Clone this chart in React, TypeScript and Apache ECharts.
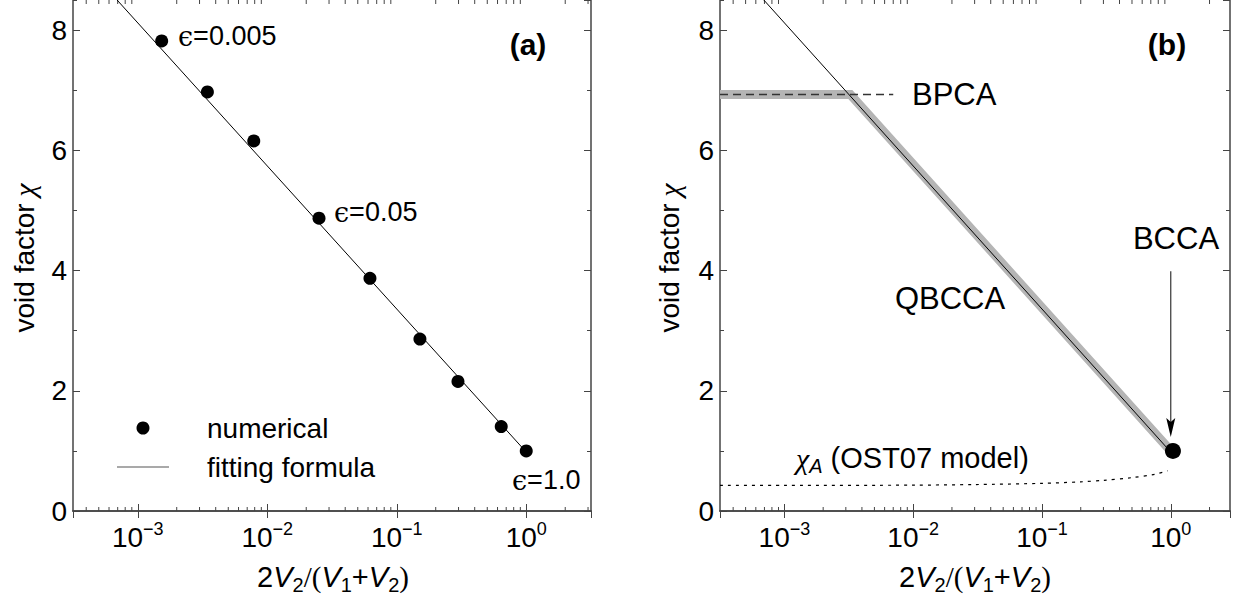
import React, { useEffect, useRef } from "react";
import * as echarts from "echarts";

// ---------- data ----------
const X_MIN = Math.pow(10, -3.5);
const X_MAX_A = Math.pow(10, 0.5);
const X_MAX_B = Math.pow(10, 0.46);
const Y_MIN = 0;
const Y_MAX = 8.5;

// panel (a): numerical results
const numericalX = [1.53e-3, 3.45e-3, 7.87e-3, 0.0251, 0.0621, 0.151, 0.297, 0.641, 1.0];
const numericalY = [7.82, 6.97, 6.155, 4.87, 3.87, 2.86, 2.155, 1.405, 1.0];

// fitting formula (straight line in log-x)
const fitX = [X_MIN, 1.0];
const fitY = [9.31, 0.98];

// panel (b): grey band (BPCA plateau then QBCCA slope)
const bandX = [X_MIN, 3.25e-3, 1.0];
const bandY = [6.93, 6.93, 1.0];

// BPCA dashed level
const bpcaX = [X_MIN, 7.0e-3];
const bpcaY = [6.93, 6.93];

// chi_A (OST07 model), dotted
const chiAX = [X_MIN, 1e-3, 1e-2, 0.03, 0.1, 0.2, 0.3, 0.5, 0.75, 0.95];
const chiAY = [0.425, 0.425, 0.43, 0.44, 0.46, 0.485, 0.51, 0.555, 0.61, 0.67];

// BCCA point and arrow
const bccaX = [1.04];
const bccaY = [1.0];
const arrowX = [1.0];
const arrowFromY = [3.99];
const arrowToY = [1.23];

const yMajorTicks = [0, 2, 4, 6, 8];

// ---------- style ----------
const SANS = "'Liberation Sans', Arial, Helvetica, sans-serif";
const SERIF = "'Liberation Serif', 'DejaVu Serif', serif";
const AXIS_COLOR = "#444";

const zip = (xs: number[], ys: number[]) => xs.map((x, i) => [x, ys[i]]);

function minorXTicks(min: number, max: number) {
  const out: number[][] = [];
  for (let e = -5; e <= 1; e++) {
    for (let k = 2; k <= 9; k++) {
      const v = k * Math.pow(10, e);
      if (v > min && v < max) out.push([v, 0]);
    }
  }
  return out;
}

const xLabel = {
  show: true,
  margin: 9,
  showMinLabel: false,
  showMaxLabel: false,
  formatter: (v: number) => {
    const e = Math.log10(v);
    if (Math.abs(e - Math.round(e)) > 1e-6) return "";
    const r = Math.round(e);
    return "{b|10}{s|" + (r < 0 ? "\u2212" + -r : String(r)) + "}";
  },
  rich: {
    b: { fontSize: 28, fontFamily: SANS, color: "#000", lineHeight: 34 },
    s: { fontSize: 18, fontFamily: SANS, color: "#000", lineHeight: 18, verticalAlign: "top" },
  },
};

function xAxis(gridIndex: number, max: number, position: string, labels: boolean) {
  return {
    type: "log",
    logBase: 10,
    gridIndex,
    min: X_MIN,
    max,
    position,
    axisLine: { show: true, lineStyle: { color: AXIS_COLOR, width: 1.5 } },
    axisTick: { show: true, inside: true, length: 7, lineStyle: { color: AXIS_COLOR, width: 1 } },
    axisLabel: labels ? xLabel : { show: false },
    splitLine: { show: false },
    minorTick: { show: false },
  };
}

function yAxis(gridIndex: number, position: string, major: boolean, labels: boolean) {
  return {
    type: "value",
    gridIndex,
    min: Y_MIN,
    max: Y_MAX,
    interval: major ? 2 : 1,
    position,
    axisLine: { show: major, lineStyle: { color: AXIS_COLOR, width: 1.5 } },
    axisTick: { show: true, inside: true, length: major ? 7 : 4, lineStyle: { color: AXIS_COLOR, width: 1 } },
    axisLabel: labels
      ? {
          show: true,
          margin: 6,
          fontSize: 28,
          fontFamily: SANS,
          color: "#000",
          showMaxLabel: false,
          formatter: (v: number) => (yMajorTicks.indexOf(v) >= 0 ? String(v) : ""),
        }
      : { show: false },
    splitLine: { show: false },
  };
}

function minorTickSeries(xAxisIndex: number, yAxisIndex: number, max: number) {
  return {
    type: "custom",
    xAxisIndex,
    yAxisIndex,
    silent: true,
    clip: false,
    encode: { x: 0, y: 1 },
    data: minorXTicks(X_MIN, max),
    renderItem: (params: any, api: any) => {
      const x = api.value(0);
      const b = api.coord([x, Y_MIN]);
      const t = api.coord([x, Y_MAX]);
      const st = { stroke: AXIS_COLOR, lineWidth: 1 };
      return {
        type: "group",
        children: [
          { type: "line", shape: { x1: b[0], y1: b[1], x2: b[0], y2: b[1] - 4 }, style: st },
          { type: "line", shape: { x1: t[0], y1: t[1], x2: t[0], y2: t[1] + 4 }, style: st },
        ],
      };
    },
  };
}

function txt(x: number, y: number, text: string, rich: any, align = "left", extra: any = {}) {
  return {
    type: "text",
    x,
    y,
    silent: true,
    ...extra,
    style: {
      text,
      rich,
      align,
      textAlign: align,
      verticalAlign: "middle",
      textVerticalAlign: "middle",
      fill: "#000",
    },
  };
}

const xTitleText = "{n|2}{i|V}{sub|2}{s|/(}{i|V}{sub|1}{n|+}{i|V}{sub|2}{s|)}";
const xTitleRich = {
  n: { fontSize: 29, fontFamily: SANS, fill: "#000", lineHeight: 36 },
  i: { fontSize: 29, fontFamily: SANS, fontStyle: "italic", fill: "#000", lineHeight: 36 },
  sub: { fontSize: 20, fontFamily: SANS, fill: "#000", lineHeight: 19, verticalAlign: "bottom" },
  s: { fontSize: 29, fontFamily: SERIF, fill: "#000", lineHeight: 36 },
};
const yTitleRich = {
  t: { fontSize: 28, fontFamily: SANS, fill: "#000" },
  c: { fontSize: 30, fontFamily: SERIF, fontStyle: "italic", fill: "#000" },
};
const epsRich = {
  e: { fontSize: 27, fontFamily: "'DejaVu Serif', serif", fill: "#000" },
  n: { fontSize: 27, fontFamily: SANS, fill: "#000" },
};
const labelRich = { l: { fontSize: 31, fontFamily: SANS, fill: "#000" } };
const panelRich = { p: { fontSize: 30, fontFamily: SANS, fontWeight: "bold", fill: "#000" } };
const chiARich = {
  c: { fontSize: 30, fontFamily: SERIF, fontStyle: "italic", fill: "#000", lineHeight: 36 },
  sub: { fontSize: 20, fontFamily: SANS, fontStyle: "italic", fill: "#000", lineHeight: 19, verticalAlign: "bottom" },
  n: { fontSize: 29, fontFamily: SANS, fill: "#000", lineHeight: 36 },
};

export default function App() {
  const ref = useRef<HTMLDivElement>(null);
  useEffect(() => {
    if (!ref.current) return;
    const chart = echarts.init(ref.current, undefined, { renderer: "svg" });
    const option: any = {
      animation: false,
      backgroundColor: "#fff",
      grid: [
        { left: 73, top: 0, width: 518, height: 511 },
        { left: 720, top: 0, width: 510, height: 511 },
      ],
      xAxis: [
        xAxis(0, X_MAX_A, "bottom", true),
        xAxis(0, X_MAX_A, "top", false),
        xAxis(1, X_MAX_B, "bottom", true),
        xAxis(1, X_MAX_B, "top", false),
      ],
      yAxis: [
        yAxis(0, "left", true, true),
        yAxis(0, "left", false, false),
        yAxis(0, "right", true, false),
        yAxis(0, "right", false, false),
        yAxis(1, "left", true, true),
        yAxis(1, "left", false, false),
        yAxis(1, "right", true, false),
        yAxis(1, "right", false, false),
      ],
      legend: {
        data: [
          { name: "numerical", icon: "circle" },
          { name: "fitting formula", icon: "path://M0,0L100,0L100,2.2L0,2.2Z" },
        ],
        orient: "vertical",
        left: 112,
        top: 409,
        itemWidth: 52,
        itemHeight: 13,
        itemGap: 11,
        textStyle: { fontSize: 28, fontFamily: SANS, color: "#000", padding: [0, 0, 0, 33] },
      },
      series: [
        {
          name: "numerical",
          type: "scatter",
          xAxisIndex: 0,
          yAxisIndex: 0,
          data: zip(numericalX, numericalY),
          symbol: "circle",
          symbolSize: 13,
          itemStyle: { color: "#000", opacity: 1 },
          z: 5,
        },
        {
          name: "fitting formula",
          type: "line",
          xAxisIndex: 0,
          yAxisIndex: 0,
          data: zip(fitX, fitY),
          symbol: "none",
          showSymbol: false,
          clip: true,
          itemStyle: { color: "#555" },
          lineStyle: { color: "#000", width: 1 },
          z: 4,
        },
        minorTickSeries(0, 0, X_MAX_A),
        {
          name: "band",
          type: "line",
          xAxisIndex: 2,
          yAxisIndex: 4,
          data: zip(bandX, bandY),
          symbol: "none",
          clip: true,
          lineStyle: { color: "#b5b5b5", width: 9, cap: "butt", join: "miter" },
          z: 2,
        },
        {
          name: "BPCA level",
          type: "line",
          xAxisIndex: 2,
          yAxisIndex: 4,
          data: zip(bpcaX, bpcaY),
          symbol: "none",
          clip: true,
          lineStyle: { color: "#333", width: 1.5, type: [8, 5] },
          z: 3,
        },
        {
          name: "fit b",
          type: "line",
          xAxisIndex: 2,
          yAxisIndex: 4,
          data: zip(fitX, fitY),
          symbol: "none",
          clip: true,
          lineStyle: { color: "#000", width: 1 },
          z: 4,
        },
        {
          name: "chiA",
          type: "line",
          xAxisIndex: 2,
          yAxisIndex: 4,
          data: zip(chiAX, chiAY),
          symbol: "none",
          smooth: 0.3,
          clip: true,
          lineStyle: { color: "#000", width: 1.2, type: [3, 5] },
          z: 3,
        },
        {
          name: "BCCA",
          type: "scatter",
          xAxisIndex: 2,
          yAxisIndex: 4,
          data: zip(bccaX, bccaY),
          symbol: "circle",
          symbolSize: 16,
          itemStyle: { color: "#000", opacity: 1 },
          z: 6,
        },
        {
          name: "arrow",
          type: "custom",
          xAxisIndex: 2,
          yAxisIndex: 4,
          silent: true,
          clip: false,
          encode: { x: 0, y: 1 },
          data: arrowX.map((x, i) => [x, arrowFromY[i], arrowToY[i]]),
          renderItem: (params: any, api: any) => {
            const x = api.value(0);
            const p0 = api.coord([x, api.value(1)]);
            const p1 = api.coord([x, api.value(2)]);
            return {
              type: "group",
              children: [
                { type: "line", shape: { x1: p0[0], y1: p0[1], x2: p1[0], y2: p1[1] - 12 }, style: { stroke: "#333", lineWidth: 1.2 } },
                {
                  type: "polygon",
                  shape: { points: [[p1[0], p1[1]], [p1[0] - 4.5, p1[1] - 19], [p1[0], p1[1] - 15], [p1[0] + 4.5, p1[1] - 19]] },
                  style: { fill: "#000" },
                },
              ],
            };
          },
          z: 6,
        },
        minorTickSeries(2, 4, X_MAX_B),
      ],
      graphic: [
        // axis titles
        txt(333, 577, xTitleText, xTitleRich, "center"),
        txt(975, 577, xTitleText, xTitleRich, "center"),
        txt(24, 258, "{t|void factor}  {c|\u03c7}", yTitleRich, "center", { rotation: Math.PI / 2 }),
        txt(669, 258, "{t|void factor}  {c|\u03c7}", yTitleRich, "center", { rotation: Math.PI / 2 }),
        // panel labels
        txt(528, 44, "{p|(a)}", panelRich, "center"),
        txt(1167, 44, "{p|(b)}", panelRich, "center"),
        // panel (a) annotations
        txt(178, 36, "{e|\u03f5}{n|=0.005}", epsRich, "left"),
        txt(334, 212, "{e|\u03f5}{n|=0.05}", epsRich, "left"),
        txt(512, 480, "{e|\u03f5}{n|=1.0}", epsRich, "left"),
        // panel (b) annotations
        txt(912, 94, "{l|BPCA}", labelRich, "left"),
        txt(950, 298, "{l|QBCCA}", labelRich, "center"),
        txt(1176, 238, "{l|BCCA}", labelRich, "center"),
        txt(796, 458, "{c|\u03c7}{sub|A}{n| (OST07 model)}", chiARich, "left"),
      ],
    };
    chart.setOption(option);
    return () => chart.dispose();
  }, []);
  return (
    <div
      ref={ref}
      style={{ position: "fixed", left: 0, top: 0, width: 1237, height: 601, background: "#fff" }}
    />
  );
}
